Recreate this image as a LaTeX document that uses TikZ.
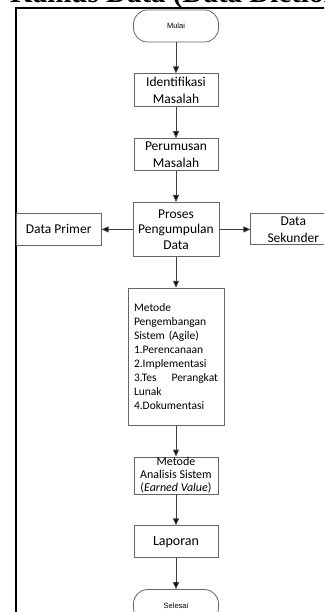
\documentclass[tikz,border=0pt]{standalone}
\usepackage{fontspec}
\setmainfont{Carlito}
\newfontfamily\termfont{Liberation Sans}
\newfontfamily\headfont{Liberation Serif}
\usetikzlibrary{positioning, arrows.meta}
\definecolor{boxgray}{HTML}{666666}
\definecolor{flowgray}{HTML}{404040}
\tikzset{
  process/.style={draw=boxgray, line width=0.8pt, minimum width=84pt, minimum height=32pt, align=center, inner sep=2pt, font=\fontsize{13.5}{17}\selectfont},
  terminal/.style={draw=boxgray, line width=0.8pt, rounded corners=14pt, minimum width=85pt, minimum height=32pt, font=\termfont\fontsize{7.5}{9}\selectfont},
  flow/.style={draw=flowgray, line width=1pt, -{Triangle[length=7pt,width=6pt]}},
}

\begin{document}
\begin{tikzpicture}[x=1pt, y=1pt, node distance=31pt]
		\useasboundingbox (0,0) rectangle (324,612);
		\clip (0,0) rectangle (324,612);
		\node[anchor=base west, inner sep=0pt, font=\headfont\bfseries\fontsize{29}{31}\selectfont] (judul) at (10,609) {Kamus Data (Data Dictionary)};
		\draw[line width=1.5pt] (16,-10) -- (16,604) -- (340,604);
		\node[terminal] (mulai) at (176,586) {Mulai};
		\node[process, below=of mulai, minimum height=33pt] (identifikasi) {Identifikasi\\Masalah};
		\node[process, below=of identifikasi] (perumusan) {Perumusan\\Masalah};
		\node[process, below=of perumusan, minimum width=86pt, minimum height=54pt, font=\fontsize{13.5}{15.5}\selectfont] (proses) {Proses\\Pengumpulan\\Data};
		\node[process, left=of proses, minimum width=85pt] (primer) {Data Primer};
		\node[process, right=of proses, minimum width=85pt, minimum height=31pt] (sekunder) {Data\\Sekunder};
		\node[process, below=of proses, text width=84pt, inner xsep=6pt, minimum height=137pt, align=left, font=\fontsize{11.5}{14}\selectfont] (agile) {Metode\\Pengembangan\\Sistem (Agile)\\1.Perencanaan\\2.Implementasi\\3.Tes\hfill Perangkat\\Lunak\\4.Dokumentasi};
		\node[process, below=of agile, minimum height=37pt, inner sep=0pt, font=\fontsize{12}{13}\selectfont] (analisis) {Metode\\Analisis Sistem\\(\textit{Earned Value})};
		\node[process, below=of analisis, font=\fontsize{14}{17}\selectfont] (laporan) {Laporan};
		\node[terminal, below=of laporan] (selesai) {Selesai};
		\draw[flow]
			(mulai) edge (identifikasi)
			(identifikasi) edge (perumusan)
			(perumusan) edge (proses)
			(proses) edge (primer)
			(proses) edge (sekunder)
			(proses) edge (agile)
			(agile) edge (analisis)
			(analisis) edge (laporan)
			(laporan) edge (selesai);
	\end{tikzpicture}
\end{document}
